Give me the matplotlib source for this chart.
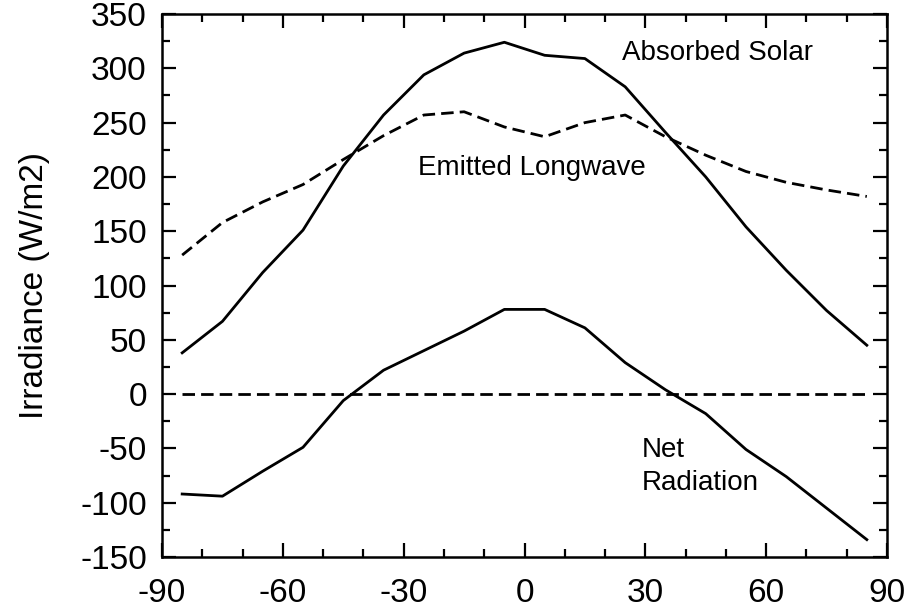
import matplotlib
matplotlib.use("Agg")
import matplotlib.pyplot as plt
from matplotlib.ticker import MultipleLocator

plt.rcParams['font.family'] = ['Liberation Sans', 'DejaVu Sans']
plt.rcParams['axes.unicode_minus'] = False

# zonal means, 10 degree latitude bands
latitude = [-85, -75, -65, -55, -45, -35, -25, -15, -5, 5, 15, 25, 35, 45, 55, 65, 75, 85]
absorbed_solar = [38, 67, 112, 151, 210, 257, 294, 314, 324, 312, 309, 283, 241, 200, 154, 114, 77, 45]
emitted_longwave = [128, 158, 177, 193, 216, 238, 257, 260, 246, 237, 250, 257, 237, 220, 205, 195, 188, 182]
net_radiation = [-92, -94, -71, -49, -6, 22, 40, 58, 78, 78, 61, 29, 4, -18, -51, -76, -105, -134]
zero_line = [0] * len(latitude)

fig = plt.figure(figsize=(9.16, 6.10), dpi=100)
ax = fig.add_axes([0.1769, 0.0869, 0.7914, 0.8901])

lw = 2.0
dash = (4.5, 2.2)
ax.plot(latitude, absorbed_solar, color='black', lw=lw)
ax.plot(latitude, emitted_longwave, color='black', lw=lw, ls=(0, dash))
ax.plot(latitude, net_radiation, color='black', lw=lw)
ax.plot(latitude, zero_line, color='black', lw=lw, ls=(0, dash))

ax.set_xlim(-90, 90)
ax.set_ylim(-150, 350)
ax.xaxis.set_major_locator(MultipleLocator(30))
ax.xaxis.set_minor_locator(MultipleLocator(10))
ax.yaxis.set_major_locator(MultipleLocator(50))
ax.yaxis.set_minor_locator(MultipleLocator(25))

ax.tick_params(which='both', direction='in', top=True, right=True, width=1.6, labelsize=24)
ax.tick_params(axis='y', pad=11)
ax.tick_params(axis='x', pad=15)
ax.tick_params(which='major', length=10)
ax.tick_params(which='minor', length=5.5)
for s in ax.spines.values():
    s.set_linewidth(1.8)

ax.set_ylabel('Irradiance (W/m2)', fontsize=24)
ax.yaxis.set_label_coords(-0.155, 0.5)

ax.text(24.2, 307.6, 'Absorbed Solar', fontsize=20, va='baseline', ha='left')
ax.text(-26.4, 202, 'Emitted Longwave', fontsize=20, va='baseline', ha='left')
ax.text(29.1, -57.6, 'Net', fontsize=20, va='baseline', ha='left')
ax.text(29.1, -88.3, 'Radiation', fontsize=20, va='baseline', ha='left')

fig.savefig('out.png', dpi=100)
